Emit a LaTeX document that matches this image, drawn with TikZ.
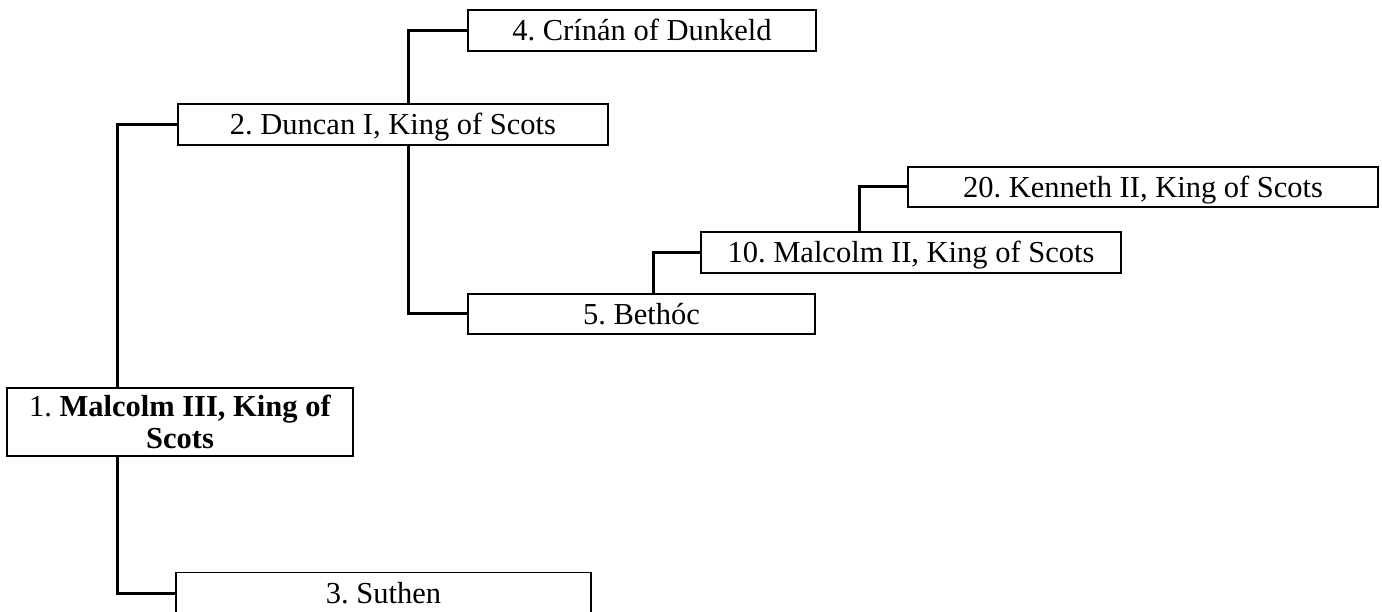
\documentclass[tikz,border=0pt]{standalone}
\usepackage{fontspec}
\setmainfont{Liberation Serif}
\begin{document}
\frenchspacing
\begin{tikzpicture}[x=1pt,y=-1pt,
  person/.style={draw=black,line width=1.3pt,fill=white,rectangle,inner sep=0pt,
    font=\fontsize{30.5pt}{32pt}\selectfont\frenchspacing,text height=20.2pt,text depth=0pt},
  conn/.style={draw=black,line width=3pt,line cap=butt,line join=miter}]
\useasboundingbox (0,0) rectangle (1382,612);
\clip (0,0) rectangle (1382,612);
\coordinate (j1) at (117,124.5);
\coordinate (j2) at (117,593);
\coordinate (j3) at (408,30.5);
\coordinate (j4) at (408,314);
\coordinate (j5) at (653,252.5);
\coordinate (j6) at (859,187);
% nodes
\node[person,minimum width=430pt,minimum height=41pt] (duncan) at (393,124.5) {2. Duncan I, King of Scots};
\node[person,minimum width=348pt,minimum height=41pt] (crinan) at (642,30.5) {4. Crínán of Dunkeld};
\node[person,minimum width=347pt,minimum height=40pt] (bethoc) at (641.5,314) {5. Bethóc};
\node[person,minimum width=420pt,minimum height=41pt] (mal2) at (911,252.5) {10. Malcolm II, King of Scots};
\node[person,minimum width=470pt,minimum height=40pt] (kenneth) at (1143,187) {20. Kenneth II, King of Scots};
\node[draw=black,line width=1.3pt,fill=white,rectangle,inner sep=0pt,align=center,
  font=\fontsize{30.5pt}{32pt}\selectfont\frenchspacing,minimum width=346pt,minimum height=68pt]
  (mal3) at (180,422) {1. \textbf{Malcolm III, King of}\\\textbf{Scots}};
\node[person,minimum width=415pt,minimum height=41pt] (suthen) at (383.5,593) {3. Suthen};
% connectors
\draw[conn] (mal3.north -| j1) -- (j1) -- (duncan.west);
\draw[conn] (mal3.south -| j2) -- (j2) -- (suthen.west);
\draw[conn] (duncan.north -| j3) -- (j3) -- (crinan.west);
\draw[conn] (duncan.south -| j4) -- (j4) -- (bethoc.west);
\draw[conn] (bethoc.north -| j5) -- (j5) -- (mal2.west);
\draw[conn] (mal2.north -| j6) -- (j6) -- (kenneth.west);
\end{tikzpicture}
\end{document}
